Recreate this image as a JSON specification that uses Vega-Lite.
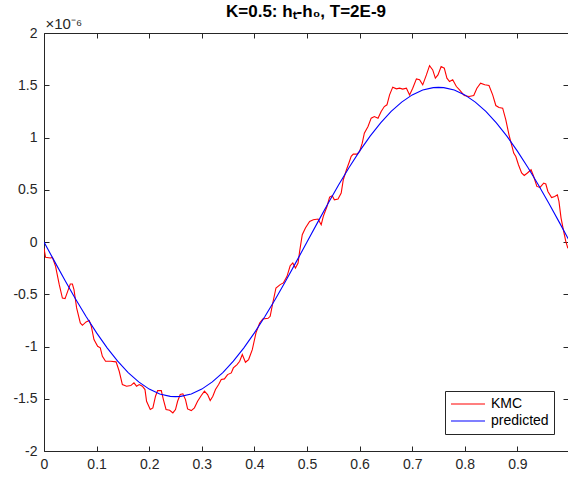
{
  "$schema": "https://vega.github.io/schema/vega-lite/v6.json",
  "width": 524,
  "height": 418,
  "autosize": {"type": "none"},
  "padding": {"left": 44, "top": 33, "right": 0, "bottom": 29},
  "background": "white",
  "title": {
    "text": "K=0.5: hₜ-h₀, T=2E-9",
    "font": "Liberation Sans",
    "fontSize": 17,
    "fontWeight": "bold",
    "color": "#000000",
    "anchor": "middle",
    "baseline": "alphabetic",
    "offset": -18
  },
  "config": {
    "view": {"stroke": null},
    "axis": {
      "grid": false,
      "labelFont": "Liberation Sans",
      "labelFontSize": 14,
      "labelColor": "#262626",
      "domainColor": "#262626",
      "tickColor": "#262626",
      "tickSize": -5,
      "labelFlush": false,
      "labelOverlap": false
    }
  },
  "data": {
    "values": [
      {"x": 0.000, "h": -0.060, "series": "KMC"},
      {"x": 0.003, "h": -0.147, "series": "KMC"},
      {"x": 0.012, "h": -0.153, "series": "KMC"},
      {"x": 0.016, "h": -0.147, "series": "KMC"},
      {"x": 0.022, "h": -0.233, "series": "KMC"},
      {"x": 0.029, "h": -0.408, "series": "KMC"},
      {"x": 0.035, "h": -0.536, "series": "KMC"},
      {"x": 0.040, "h": -0.542, "series": "KMC"},
      {"x": 0.045, "h": -0.472, "series": "KMC"},
      {"x": 0.050, "h": -0.402, "series": "KMC"},
      {"x": 0.054, "h": -0.402, "series": "KMC"},
      {"x": 0.057, "h": -0.456, "series": "KMC"},
      {"x": 0.062, "h": -0.631, "series": "KMC"},
      {"x": 0.069, "h": -0.775, "series": "KMC"},
      {"x": 0.073, "h": -0.797, "series": "KMC"},
      {"x": 0.080, "h": -0.765, "series": "KMC"},
      {"x": 0.086, "h": -0.752, "series": "KMC"},
      {"x": 0.090, "h": -0.807, "series": "KMC"},
      {"x": 0.095, "h": -0.934, "series": "KMC"},
      {"x": 0.102, "h": -0.998, "series": "KMC"},
      {"x": 0.107, "h": -1.013, "series": "KMC"},
      {"x": 0.111, "h": -1.094, "series": "KMC"},
      {"x": 0.117, "h": -1.141, "series": "KMC"},
      {"x": 0.127, "h": -1.141, "series": "KMC"},
      {"x": 0.137, "h": -1.147, "series": "KMC"},
      {"x": 0.143, "h": -1.237, "series": "KMC"},
      {"x": 0.149, "h": -1.364, "series": "KMC"},
      {"x": 0.157, "h": -1.380, "series": "KMC"},
      {"x": 0.165, "h": -1.374, "series": "KMC"},
      {"x": 0.171, "h": -1.348, "series": "KMC"},
      {"x": 0.176, "h": -1.380, "series": "KMC"},
      {"x": 0.181, "h": -1.364, "series": "KMC"},
      {"x": 0.187, "h": -1.380, "series": "KMC"},
      {"x": 0.192, "h": -1.412, "series": "KMC"},
      {"x": 0.195, "h": -1.524, "series": "KMC"},
      {"x": 0.202, "h": -1.603, "series": "KMC"},
      {"x": 0.207, "h": -1.587, "series": "KMC"},
      {"x": 0.212, "h": -1.476, "series": "KMC"},
      {"x": 0.216, "h": -1.422, "series": "KMC"},
      {"x": 0.223, "h": -1.422, "series": "KMC"},
      {"x": 0.227, "h": -1.508, "series": "KMC"},
      {"x": 0.232, "h": -1.603, "series": "KMC"},
      {"x": 0.239, "h": -1.610, "series": "KMC"},
      {"x": 0.245, "h": -1.635, "series": "KMC"},
      {"x": 0.250, "h": -1.603, "series": "KMC"},
      {"x": 0.254, "h": -1.524, "series": "KMC"},
      {"x": 0.259, "h": -1.460, "series": "KMC"},
      {"x": 0.264, "h": -1.453, "series": "KMC"},
      {"x": 0.269, "h": -1.508, "series": "KMC"},
      {"x": 0.273, "h": -1.597, "series": "KMC"},
      {"x": 0.280, "h": -1.613, "series": "KMC"},
      {"x": 0.286, "h": -1.587, "series": "KMC"},
      {"x": 0.292, "h": -1.524, "series": "KMC"},
      {"x": 0.299, "h": -1.469, "series": "KMC"},
      {"x": 0.305, "h": -1.428, "series": "KMC"},
      {"x": 0.311, "h": -1.460, "series": "KMC"},
      {"x": 0.316, "h": -1.517, "series": "KMC"},
      {"x": 0.321, "h": -1.476, "series": "KMC"},
      {"x": 0.326, "h": -1.412, "series": "KMC"},
      {"x": 0.332, "h": -1.364, "series": "KMC"},
      {"x": 0.337, "h": -1.316, "series": "KMC"},
      {"x": 0.343, "h": -1.310, "series": "KMC"},
      {"x": 0.349, "h": -1.269, "series": "KMC"},
      {"x": 0.356, "h": -1.253, "series": "KMC"},
      {"x": 0.360, "h": -1.205, "series": "KMC"},
      {"x": 0.367, "h": -1.173, "series": "KMC"},
      {"x": 0.372, "h": -1.141, "series": "KMC"},
      {"x": 0.377, "h": -1.077, "series": "KMC"},
      {"x": 0.383, "h": -1.151, "series": "KMC"},
      {"x": 0.389, "h": -1.125, "series": "KMC"},
      {"x": 0.396, "h": -1.030, "series": "KMC"},
      {"x": 0.403, "h": -0.870, "series": "KMC"},
      {"x": 0.410, "h": -0.775, "series": "KMC"},
      {"x": 0.416, "h": -0.736, "series": "KMC"},
      {"x": 0.426, "h": -0.730, "series": "KMC"},
      {"x": 0.430, "h": -0.711, "series": "KMC"},
      {"x": 0.435, "h": -0.583, "series": "KMC"},
      {"x": 0.441, "h": -0.440, "series": "KMC"},
      {"x": 0.449, "h": -0.408, "series": "KMC"},
      {"x": 0.455, "h": -0.392, "series": "KMC"},
      {"x": 0.462, "h": -0.329, "series": "KMC"},
      {"x": 0.468, "h": -0.227, "series": "KMC"},
      {"x": 0.473, "h": -0.201, "series": "KMC"},
      {"x": 0.478, "h": -0.249, "series": "KMC"},
      {"x": 0.483, "h": -0.201, "series": "KMC"},
      {"x": 0.486, "h": -0.090, "series": "KMC"},
      {"x": 0.491, "h": 0.070, "series": "KMC"},
      {"x": 0.497, "h": 0.134, "series": "KMC"},
      {"x": 0.505, "h": 0.197, "series": "KMC"},
      {"x": 0.512, "h": 0.213, "series": "KMC"},
      {"x": 0.521, "h": 0.220, "series": "KMC"},
      {"x": 0.527, "h": 0.165, "series": "KMC"},
      {"x": 0.531, "h": 0.245, "series": "KMC"},
      {"x": 0.538, "h": 0.340, "series": "KMC"},
      {"x": 0.543, "h": 0.430, "series": "KMC"},
      {"x": 0.548, "h": 0.443, "series": "KMC"},
      {"x": 0.552, "h": 0.404, "series": "KMC"},
      {"x": 0.559, "h": 0.411, "series": "KMC"},
      {"x": 0.565, "h": 0.468, "series": "KMC"},
      {"x": 0.569, "h": 0.596, "series": "KMC"},
      {"x": 0.575, "h": 0.691, "series": "KMC"},
      {"x": 0.580, "h": 0.761, "series": "KMC"},
      {"x": 0.584, "h": 0.820, "series": "KMC"},
      {"x": 0.588, "h": 0.841, "series": "KMC"},
      {"x": 0.595, "h": 0.841, "series": "KMC"},
      {"x": 0.600, "h": 0.866, "series": "KMC"},
      {"x": 0.605, "h": 0.946, "series": "KMC"},
      {"x": 0.609, "h": 1.042, "series": "KMC"},
      {"x": 0.616, "h": 1.105, "series": "KMC"},
      {"x": 0.622, "h": 1.185, "series": "KMC"},
      {"x": 0.628, "h": 1.201, "series": "KMC"},
      {"x": 0.635, "h": 1.185, "series": "KMC"},
      {"x": 0.641, "h": 1.249, "series": "KMC"},
      {"x": 0.647, "h": 1.296, "series": "KMC"},
      {"x": 0.652, "h": 1.313, "series": "KMC"},
      {"x": 0.657, "h": 1.408, "series": "KMC"},
      {"x": 0.663, "h": 1.482, "series": "KMC"},
      {"x": 0.670, "h": 1.466, "series": "KMC"},
      {"x": 0.676, "h": 1.472, "series": "KMC"},
      {"x": 0.682, "h": 1.463, "series": "KMC"},
      {"x": 0.689, "h": 1.472, "series": "KMC"},
      {"x": 0.695, "h": 1.408, "series": "KMC"},
      {"x": 0.701, "h": 1.472, "series": "KMC"},
      {"x": 0.708, "h": 1.561, "series": "KMC"},
      {"x": 0.714, "h": 1.552, "series": "KMC"},
      {"x": 0.720, "h": 1.504, "series": "KMC"},
      {"x": 0.727, "h": 1.599, "series": "KMC"},
      {"x": 0.733, "h": 1.688, "series": "KMC"},
      {"x": 0.739, "h": 1.647, "series": "KMC"},
      {"x": 0.744, "h": 1.568, "series": "KMC"},
      {"x": 0.749, "h": 1.599, "series": "KMC"},
      {"x": 0.755, "h": 1.679, "series": "KMC"},
      {"x": 0.761, "h": 1.663, "series": "KMC"},
      {"x": 0.766, "h": 1.568, "series": "KMC"},
      {"x": 0.771, "h": 1.535, "series": "KMC"},
      {"x": 0.777, "h": 1.552, "series": "KMC"},
      {"x": 0.784, "h": 1.488, "series": "KMC"},
      {"x": 0.790, "h": 1.456, "series": "KMC"},
      {"x": 0.799, "h": 1.402, "series": "KMC"},
      {"x": 0.808, "h": 1.392, "series": "KMC"},
      {"x": 0.817, "h": 1.402, "series": "KMC"},
      {"x": 0.823, "h": 1.472, "series": "KMC"},
      {"x": 0.830, "h": 1.520, "series": "KMC"},
      {"x": 0.838, "h": 1.504, "series": "KMC"},
      {"x": 0.846, "h": 1.497, "series": "KMC"},
      {"x": 0.853, "h": 1.408, "series": "KMC"},
      {"x": 0.859, "h": 1.306, "series": "KMC"},
      {"x": 0.865, "h": 1.287, "series": "KMC"},
      {"x": 0.872, "h": 1.281, "series": "KMC"},
      {"x": 0.878, "h": 1.169, "series": "KMC"},
      {"x": 0.884, "h": 1.026, "series": "KMC"},
      {"x": 0.889, "h": 0.930, "series": "KMC"},
      {"x": 0.893, "h": 0.851, "series": "KMC"},
      {"x": 0.897, "h": 0.818, "series": "KMC"},
      {"x": 0.902, "h": 0.739, "series": "KMC"},
      {"x": 0.908, "h": 0.660, "series": "KMC"},
      {"x": 0.913, "h": 0.637, "series": "KMC"},
      {"x": 0.919, "h": 0.660, "series": "KMC"},
      {"x": 0.926, "h": 0.691, "series": "KMC"},
      {"x": 0.931, "h": 0.627, "series": "KMC"},
      {"x": 0.937, "h": 0.532, "series": "KMC"},
      {"x": 0.943, "h": 0.522, "series": "KMC"},
      {"x": 0.950, "h": 0.564, "series": "KMC"},
      {"x": 0.954, "h": 0.555, "series": "KMC"},
      {"x": 0.958, "h": 0.484, "series": "KMC"},
      {"x": 0.965, "h": 0.426, "series": "KMC"},
      {"x": 0.971, "h": 0.436, "series": "KMC"},
      {"x": 0.976, "h": 0.452, "series": "KMC"},
      {"x": 0.979, "h": 0.388, "series": "KMC"},
      {"x": 0.983, "h": 0.229, "series": "KMC"},
      {"x": 0.988, "h": 0.101, "series": "KMC"},
      {"x": 0.992, "h": 0.006, "series": "KMC"},
      {"x": 0.996, "h": -0.060, "series": "KMC"},
      {"x": 0.00, "h": 0.0, "series": "predicted"},
      {"x": 0.02, "h": -0.1855, "series": "predicted"},
      {"x": 0.04, "h": -0.3681, "series": "predicted"},
      {"x": 0.06, "h": -0.5448, "series": "predicted"},
      {"x": 0.08, "h": -0.7130, "series": "predicted"},
      {"x": 0.10, "h": -0.8699, "series": "predicted"},
      {"x": 0.12, "h": -1.0131, "series": "predicted"},
      {"x": 0.14, "h": -1.1404, "series": "predicted"},
      {"x": 0.16, "h": -1.2496, "series": "predicted"},
      {"x": 0.18, "h": -1.3391, "series": "predicted"},
      {"x": 0.20, "h": -1.4076, "series": "predicted"},
      {"x": 0.22, "h": -1.4538, "series": "predicted"},
      {"x": 0.24, "h": -1.4771, "series": "predicted"},
      {"x": 0.25, "h": -1.4800, "series": "predicted"},
      {"x": 0.26, "h": -1.4771, "series": "predicted"},
      {"x": 0.28, "h": -1.4538, "series": "predicted"},
      {"x": 0.30, "h": -1.4076, "series": "predicted"},
      {"x": 0.32, "h": -1.3391, "series": "predicted"},
      {"x": 0.34, "h": -1.2496, "series": "predicted"},
      {"x": 0.36, "h": -1.1404, "series": "predicted"},
      {"x": 0.38, "h": -1.0131, "series": "predicted"},
      {"x": 0.40, "h": -0.8699, "series": "predicted"},
      {"x": 0.42, "h": -0.7130, "series": "predicted"},
      {"x": 0.44, "h": -0.5448, "series": "predicted"},
      {"x": 0.46, "h": -0.3681, "series": "predicted"},
      {"x": 0.48, "h": -0.1855, "series": "predicted"},
      {"x": 0.50, "h": 0.0, "series": "predicted"},
      {"x": 0.52, "h": 0.1855, "series": "predicted"},
      {"x": 0.54, "h": 0.3681, "series": "predicted"},
      {"x": 0.56, "h": 0.5448, "series": "predicted"},
      {"x": 0.58, "h": 0.7130, "series": "predicted"},
      {"x": 0.60, "h": 0.8699, "series": "predicted"},
      {"x": 0.62, "h": 1.0131, "series": "predicted"},
      {"x": 0.64, "h": 1.1404, "series": "predicted"},
      {"x": 0.66, "h": 1.2496, "series": "predicted"},
      {"x": 0.68, "h": 1.3391, "series": "predicted"},
      {"x": 0.70, "h": 1.4076, "series": "predicted"},
      {"x": 0.72, "h": 1.4538, "series": "predicted"},
      {"x": 0.74, "h": 1.4771, "series": "predicted"},
      {"x": 0.75, "h": 1.4800, "series": "predicted"},
      {"x": 0.76, "h": 1.4771, "series": "predicted"},
      {"x": 0.78, "h": 1.4538, "series": "predicted"},
      {"x": 0.80, "h": 1.4076, "series": "predicted"},
      {"x": 0.82, "h": 1.3391, "series": "predicted"},
      {"x": 0.84, "h": 1.2496, "series": "predicted"},
      {"x": 0.86, "h": 1.1404, "series": "predicted"},
      {"x": 0.88, "h": 1.0131, "series": "predicted"},
      {"x": 0.90, "h": 0.8699, "series": "predicted"},
      {"x": 0.92, "h": 0.7130, "series": "predicted"},
      {"x": 0.94, "h": 0.5448, "series": "predicted"},
      {"x": 0.96, "h": 0.3681, "series": "predicted"},
      {"x": 0.98, "h": 0.1855, "series": "predicted"},
      {"x": 1.00, "h": 0.0, "series": "predicted"}
    ]
  },
  "layer": [
    {
      "mark": {"type": "line", "strokeWidth": 1.1, "clip": true},
      "encoding": {
        "x": {
          "field": "x", "type": "quantitative",
          "scale": {"domain": [0, 1], "range": [0, 526], "nice": false, "zero": false},
          "axis": {
            "orient": "bottom", "title": null,
            "values": [0, 0.1, 0.2, 0.3, 0.4, 0.5, 0.6, 0.7, 0.8, 0.9],
            "labelExpr": "datum.value + ''",
            "labelPadding": 11
          }
        },
        "y": {
          "field": "h", "type": "quantitative",
          "scale": {"domain": [-2, 2], "nice": false, "zero": false},
          "axis": {
            "orient": "left",
            "values": [-2, -1.5, -1, -0.5, 0, 0.5, 1, 1.5, 2],
            "labelExpr": "datum.value + ''",
            "labelPadding": 12,
            "title": "×10⁻⁶",
            "titleAngle": 0,
            "titleAlign": "left",
            "titleBaseline": "alphabetic",
            "titleX": 1,
            "titleY": -5,
            "titleFont": "Liberation Sans",
            "titleFontSize": 15,
            "titleFontWeight": "normal",
            "titleColor": "#262626"
          }
        },
        "color": {
          "field": "series", "type": "nominal",
          "scale": {"domain": ["KMC", "predicted"], "range": ["#FF0000", "#0000FF"]},
          "legend": {
            "title": null,
            "orient": "none",
            "legendX": 401,
            "legendY": 358,
            "symbolType": "stroke",
            "symbolSize": 1156,
            "symbolStrokeWidth": 1.1,
            "clipHeight": 16,
            "rowPadding": 1,
            "padding": 5,
            "labelOffset": 5,
            "labelFont": "Liberation Sans",
            "labelFontSize": 14,
            "labelColor": "#000000",
            "strokeColor": "#262626",
            "fillColor": "#FFFFFF"
          }
        }
      }
    },
    {
      "mark": {"type": "line", "strokeOpacity": 0, "clip": true},
      "encoding": {
        "x": {
          "field": "x", "type": "quantitative",
          "axis": {
            "orient": "top", "title": null, "labels": false,
            "values": [0, 0.1, 0.2, 0.3, 0.4, 0.5, 0.6, 0.7, 0.8, 0.9, 1]
          }
        },
        "y": {
          "field": "h", "type": "quantitative",
          "axis": {
            "orient": "right", "title": null, "labels": false, "domain": false,
            "values": [-2, -1.5, -1, -0.5, 0, 0.5, 1, 1.5, 2]
          }
        },
        "detail": {"field": "series"}
      }
    }
  ],
  "resolve": {"axis": {"x": "independent", "y": "independent"}}
}
